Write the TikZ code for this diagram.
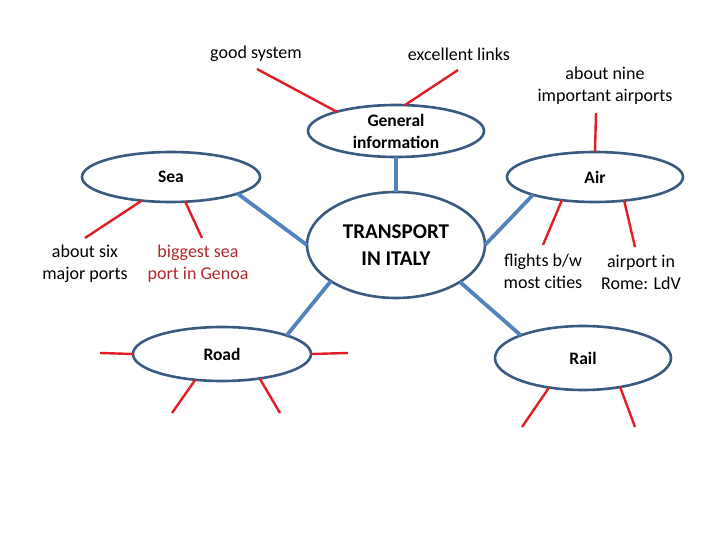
\documentclass[tikz,border=0pt]{standalone}
\usepackage{fontspec}
\setmainfont{Carlito}
\usetikzlibrary{shapes.geometric}
\definecolor{outl}{HTML}{3A5A80}
\definecolor{bluel}{HTML}{5283BC}
\definecolor{redl}{HTML}{E01E26}
\definecolor{darkred}{HTML}{B0282C}
\tikzset{
  bub/.style={ellipse, draw=outl, line width=2.6pt, fill=white, inner sep=0pt, outer sep=0pt},
  bublab/.style={font=\fontsize{17.5}{22}\selectfont\bfseries, align=center, inner sep=0pt},
  conn/.style={draw=bluel, line width=3.8pt},
  twig/.style={draw=redl, line width=2.4pt},
  note/.style={font=\fontsize{18}{22}\selectfont, align=center, inner sep=0pt},
}
\begin{document}
\begin{tikzpicture}[x=1pt,y=-1pt]
\useasboundingbox (0,0) rectangle (720,540);
% blue connectors first (under ellipses)
\node[bub, minimum width=178pt, minimum height=106pt,
  label={[bublab, font=\fontsize{21}{27}\selectfont\bfseries]center:TRANSPORT\\IN ITALY}] (trans) at (396,245) {};
\node[bub, minimum width=176pt, minimum height=52pt,
  label={[bublab]center:General\\information}] (gen) at (396,131) {};
\node[bub, minimum width=178pt, minimum height=50pt,
  label={[bublab]center:Sea}] (sea) at (171,177) {};
\node[bub, minimum width=176pt, minimum height=50pt,
  label={[bublab]center:Air}] (air) at (595,177) {};
\node[bub, minimum width=178pt, minimum height=54pt,
  label={[bublab]center:Road}] (road) at (222,354) {};
\node[bub, minimum width=176pt, minimum height=64pt,
  label={[bublab]center:Rail}] (rail) at (583,358) {};

\begin{scope}[on background layer/.style={}]
\draw[conn] (gen.south) -- (trans.north);
\draw[conn] (sea.-14.7) -- (trans.west);
\draw[conn] (trans.-151) -- (road.16.8);
\draw[conn] (trans.east) -- (air.196);
\draw[conn] (trans.-30.4) -- (rail.160);
\end{scope}

% text notes
\node[note] (goodsys) at (256,54) {good system};
\node[note] (exc) at (459,54) {excellent links};
\node[note] (nine) at (605,86) {about nine\\important airports};
\node[note] (six) at (85,264) {about six\\major ports};
\node[note, text=darkred] (genoa) at (198,264) {biggest sea\\port in Genoa};
\node[note] (flights) at (543,271) {flights b/w\\most cities};
\node[note] (rome) at (641,272) {airport in\\Rome: LdV};

% free ends
\coordinate (gA) at (257,69);
\coordinate (gB) at (458,70);
\coordinate (aA) at (596,113);
\coordinate (sA) at (85,238);
\coordinate (sB) at (202,238);
\coordinate (aB) at (543,245);
\coordinate (aC) at (635,247);
\coordinate (rL) at (100,353);
\coordinate (rR) at (348,353);
\coordinate (rA) at (172,413);
\coordinate (rB) at (280,413);
\coordinate (lA) at (522,427);
\coordinate (lB) at (635,427);

% red twigs
\draw[twig] (gen.162.7) -- (gA);
\draw[twig] (gen.71) -- (gB);
\draw[twig] (air.north) -- (aA);
\draw[twig] (sea.-141) -- (sA);
\draw[twig] (sea.-60.8) -- (sB);
\draw[twig] (air.-145) -- (aB);
\draw[twig] (air.-39) -- (aC);
\draw[twig] (road.west) -- (rL);
\draw[twig] (road.east) -- (rR);
\draw[twig] (road.-136) -- (rA);
\draw[twig] (road.-33.7) -- (rB);
\draw[twig] (rail.-139) -- (lA);
\draw[twig] (rail.-38.5) -- (lB);
\end{tikzpicture}
\end{document}
